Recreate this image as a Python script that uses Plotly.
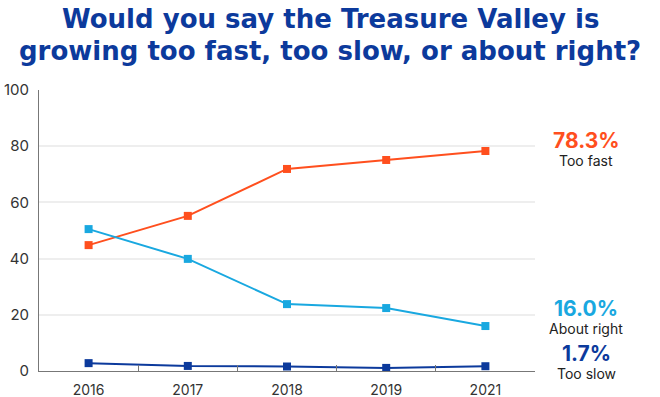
import plotly.graph_objects as go

years = ["2016", "2017", "2018", "2019", "2021"]
too_fast = [44.8, 55.2, 71.9, 75.1, 78.3]
about_right = [50.5, 39.9, 23.8, 22.4, 16.0]
too_slow = [2.8, 1.8, 1.6, 1.1, 1.7]
y_ticks = [0, 20, 40, 60, 80, 100]
title_lines = ["Would you say the Treasure Valley is",
               "growing too fast, too slow, or about right?"]

series = [
    ("Too fast", too_fast, "#FF4F1E"),
    ("About right", about_right, "#19A8E0"),
    ("Too slow", too_slow, "#0C3A9C"),
]

fig = go.Figure()
for name, vals, col in series:
    fig.add_trace(go.Scatter(
        x=years, y=vals, mode="lines+markers", name=name,
        line=dict(color=col, width=2),
        marker=dict(symbol="square", size=8, color=col),
    ))

L, R, T, B, W, H = 39, 125, 90, 26, 660, 397
PW, PH = W - L - R, H - T - B


def px_x(px):
    return (px - L) / PW


def px_y(py):
    return (H - B - py) / PH


label_pos = {"Too fast": 140, "About right": 308, "Too slow": 353}
for name, vals, col in series:
    py = label_pos[name]
    fig.add_annotation(xref="paper", yref="paper", x=px_x(586), y=px_y(py),
                       text=f"<b>{vals[-1]:.1f}%</b>", showarrow=False,
                       font=dict(family="Inter", size=21, color=col),
                       xanchor="center", yanchor="middle")
    fig.add_annotation(xref="paper", yref="paper", x=px_x(586), y=px_y(py + 20),
                       text=name, showarrow=False,
                       font=dict(family="Inter", size=14, color="#222222"),
                       xanchor="center", yanchor="middle")

for i, line in enumerate(title_lines):
    fig.add_annotation(xref="paper", yref="paper", x=px_x(W / 2), y=px_y(19 + 32 * i),
                       text=f"<b>{line}</b>", showarrow=False,
                       font=dict(family="DejaVu Sans", size=26, color="#0C3A9C"),
                       xanchor="center", yanchor="middle")

fig.update_layout(
    width=W, height=H,
    margin=dict(l=L, r=R, t=T, b=B, autoexpand=False),
    paper_bgcolor="white", plot_bgcolor="white",
    showlegend=False,
    font=dict(family="Inter", color="#333333"),
)
fig.update_xaxes(type="category", range=[-0.5, len(years) - 0.5],
                 showline=True, linecolor="#777777", linewidth=1,
                 ticks="inside", tickson="boundaries", ticklen=6, tickcolor="#777777",
                 showgrid=False, tickfont=dict(size=14, color="#333333"),
                 automargin=False, ticklabelstandoff=6)
fig.update_yaxes(range=[0, 100], tickvals=y_ticks, showline=True, linecolor="#777777",
                 linewidth=1, gridcolor="#eeeeee", gridwidth=1.5, zeroline=False,
                 tickfont=dict(size=15, color="#333333"), ticks="",
                 automargin=False, ticklabelstandoff=6)

fig.write_html("out.html", config={"displayModeBar": False},
               post_script="document.body.style.margin='0';")
